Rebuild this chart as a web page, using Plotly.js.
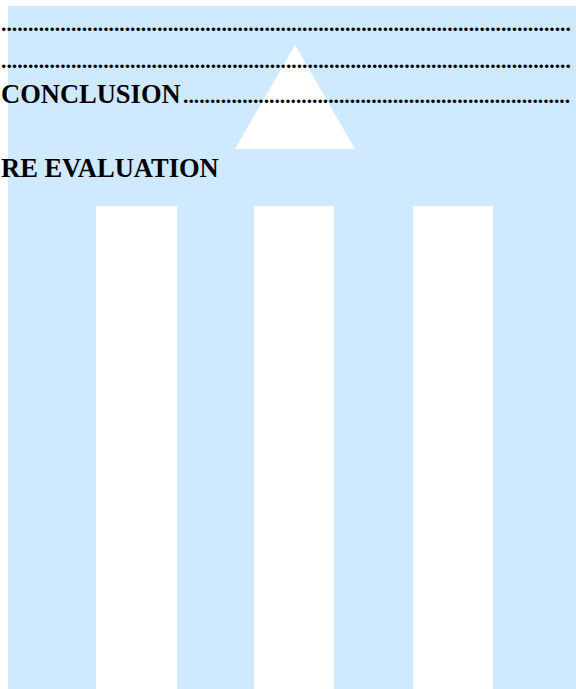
<!DOCTYPE html>
<html>
<head>
<meta charset="utf-8">
<script src="https://cdn.plot.ly/plotly-3.0.1.min.js"></script>
<style>html,body{margin:0;padding:0;background:#fff;}#chart{width:576px;height:689px;}</style>
</head>
<body>
<div id="chart"></div>
<script>
// Watermark columns (bar chart)
const columnCenters = [136.5, 294, 453];
const columnWidths = [81, 80, 80];
const columnBase = 206;
const columnHeights = [483, 483, 483];
// Watermark triangle
const triangleX = [235, 295, 355, 235];
const triangleY = [149, 45, 149, 149];
// Text lines
const headings = ["CONCLUSION", "RE EVALUATION"];
const leaderDots = [106, 106, 72];

const blue = "#cfe9fe";
const dots = n => ".".repeat(n);

const traces = [
  {
    type: "bar",
    x: columnCenters,
    y: columnHeights,
    base: columnBase,
    width: columnWidths,
    marker: {color: "#ffffff", line: {width: 0}},
    hoverinfo: "skip",
    showlegend: false
  },
  {
    type: "scatter",
    mode: "lines",
    x: triangleX,
    y: triangleY,
    fill: "toself",
    fillcolor: "#ffffff",
    line: {width: 0, color: "#ffffff"},
    hoverinfo: "skip",
    showlegend: false
  }
];

const serif = {family: "Liberation Serif, Times New Roman, serif", color: "#000", weight: 700};
function ann(text, x, y, size) {
  return {text: "<b>" + text + "</b>", x: x, y: y, xref: "x", yref: "y", xanchor: "left", yanchor: "middle",
          showarrow: false, borderpad: 0, font: Object.assign({}, serif, {size: size})};
}

const layout = {
  width: 576, height: 689,
  margin: {l: 0, r: 0, t: 0, b: 0, pad: 0},
  paper_bgcolor: "#ffffff",
  plot_bgcolor: "#ffffff",
  showlegend: false,
  bargap: 0,
  xaxis: {range: [0, 576], visible: false, fixedrange: true},
  yaxis: {range: [689, 0], visible: false, fixedrange: true},
  shapes: [
    {type: "rect", xref: "x", yref: "y", x0: 8, x1: 576, y0: 6, y1: 689,
     fillcolor: blue, line: {width: 0}, layer: "below"}
  ],
  annotations: [
    ann(dots(leaderDots[0]), 0, 24, 21.5),
    ann(dots(leaderDots[1]), 0, 60.6, 21.5),
    ann(headings[0], 0, 94.2, 26.5),
    ann(dots(leaderDots[2]), 182, 95.6, 21.5),
    ann(headings[1], 0, 167.7, 26.5)
  ]
};

Plotly.newPlot("chart", traces, layout, {displayModeBar: false, staticPlot: true});
</script>
</body>
</html>
